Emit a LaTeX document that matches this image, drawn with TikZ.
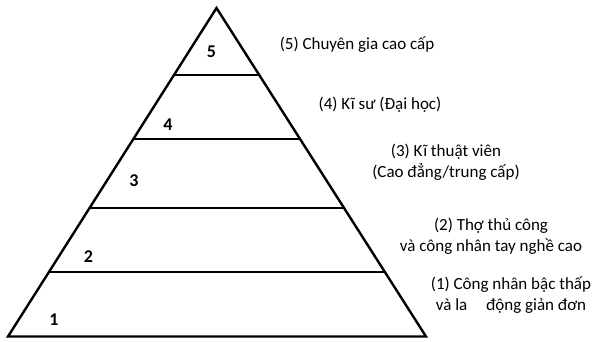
\documentclass[tikz,border=0pt]{standalone}
\usepackage{fontspec}
\setmainfont{Carlito}
\usetikzlibrary{calc}
\begin{document}
\begin{tikzpicture}[x=1pt,y=-1pt,
  edge/.style={line width=2.4pt, line join=miter},
  tier/.style={line width=1.7pt},
  num/.style={font=\fontsize{18}{18}\selectfont\bfseries, inner sep=0pt},
  lab/.style={font=\fontsize{17}{21}\selectfont, align=center, inner sep=0pt}]
\useasboundingbox (0,0) rectangle (602,341);
\coordinate (A) at (216.5,8);
\coordinate (L) at (8,336.5);
\coordinate (R) at (426,336.5);
\draw[edge] (A) -- (L) -- (R) -- cycle;
\foreach \t/\n in {0.2036/a,0.398/b,0.608/c,0.8046/d}{
  \coordinate (l\n) at ($(A)!\t!(L)$);
  \coordinate (r\n) at ($(A)!\t!(R)$);
  \draw[tier] (l\n) -- (r\n);
}
\node[num] (n5) at (211.5,52) {5};
\node[num] (n4) at (168,125) {4};
\node[num] (n3) at (134,181) {3};
\node[num] (n2) at (88.5,257) {2};
\node[num] (n1) at (54,320) {1};
\node[lab] (t5) at (357,45) {(5) Chuyên gia cao cấp};
\node[lab] (t4) at (380,105) {(4) Kĩ sư (Đại học)};
\node[lab] (t3) at (446,162) {(3) Kĩ thuật viên\\(Cao đẳng/trung cấp)};
\node[lab] (t2) at (491,236) {(2) Thợ thủ công\\và công nhân tay nghề cao};
\node[lab] (t1) at (511,295) {(1) Công nhân bậc thấp\\và la\hspace{1.1em}động giản đơn};
\end{tikzpicture}
\end{document}
